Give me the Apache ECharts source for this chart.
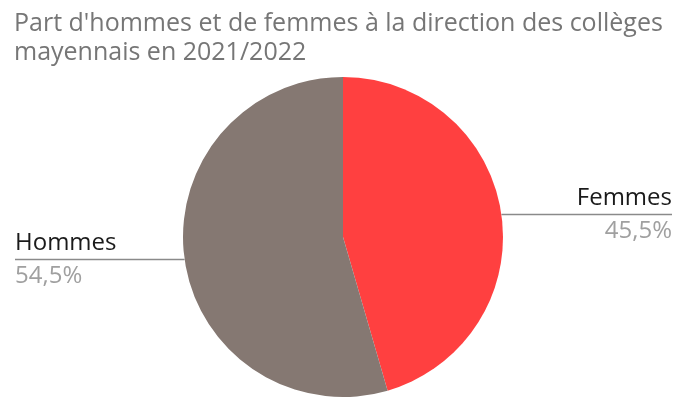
<!DOCTYPE html>
<html><head><meta charset="utf-8">
<script src="https://cdn.jsdelivr.net/npm/echarts@6/dist/echarts.min.js"></script>
<style>html,body{margin:0;padding:0;background:#fff}#c{width:680px;height:410px}</style>
</head><body><div id="c"></div>
<script>
const titleText = "Part d'hommes et de femmes à la direction des collèges\nmayennais en 2021/2022";
const categories = ["Femmes", "Hommes"];
const values = [45.5, 54.5];
const colors = ["#FF4040", "#857872"];

const chart = echarts.init(document.getElementById('c'));
chart.setOption({
  animation: false,
  title: {
    text: titleText, left: 9, top: 4,
    textStyle: { fontFamily: "Open Sans", fontWeight: "normal", fontSize: 25, color: "#767676", lineHeight: 29 }
  },
  series: [{
    type: 'pie',
    center: [343, 237],
    radius: 160,
    startAngle: 90,
    clockwise: true,
    data: categories.map((c, i) => ({ name: c, value: values[i], itemStyle: { color: colors[i] } })),
    label: {
      position: 'outside',
      alignTo: 'edge',
      edgeDistance: 8,
      formatter: p => '{n|' + p.name + '}\n{v|' + p.value.toFixed(1).replace('.', ',') + '%}',
      rich: {
        n: { fontFamily: "Open Sans", fontSize: 24, color: "#1a1a1a", lineHeight: 33 },
        v: { fontFamily: "Open Sans", fontSize: 24, color: "#a0a0a0", lineHeight: 33 }
      }
    },
    labelLine: { show: true, length: 0, length2: 10, lineStyle: { color: "#8a8a8a", width: 1.5 } },
    labelLayout: function (params) {
      const pts = params.labelLinePoints;
      if (!pts) return {};
      const r = params.labelRect;
      const last = pts[pts.length - 1];
      const left = last[0] < pts[0][0];
      const np = pts.map(p => p.slice());
      const shift = left ? 7 : 0;
      np[np.length - 1] = [left ? r.x + shift : r.x + r.width, last[1]];
      return left ? { x: r.x + shift, labelLinePoints: np } : { labelLinePoints: np };
    }
  }]
});
</script></body></html>
